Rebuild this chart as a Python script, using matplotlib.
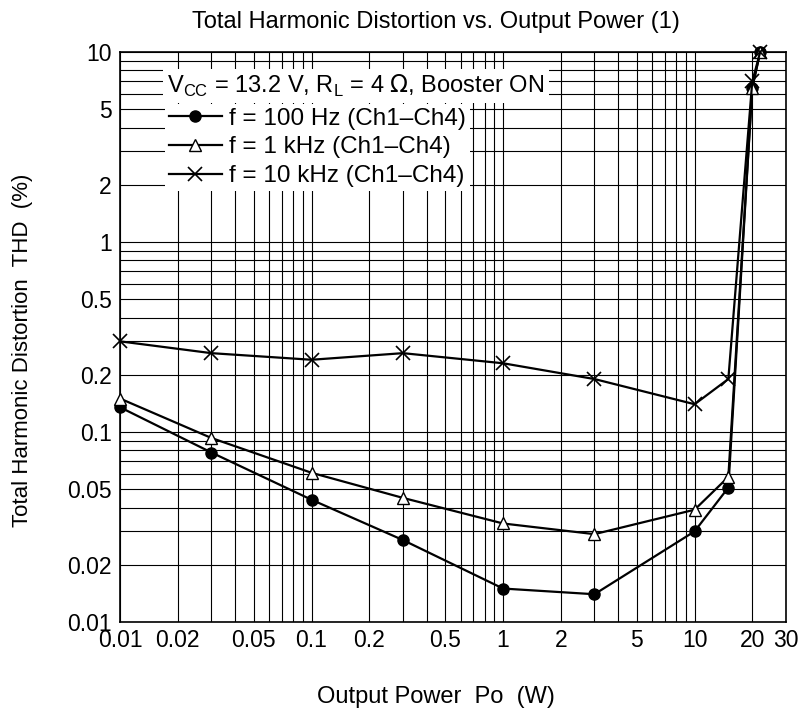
import matplotlib
matplotlib.use("Agg")
import matplotlib.pyplot as plt
from matplotlib.ticker import FixedLocator, FixedFormatter, LogLocator, NullFormatter

plt.rcParams["font.family"] = ["Liberation Sans", "DejaVu Sans"]

# data
power_w = [0.01, 0.03, 0.1, 0.3, 1, 3, 10, 15, 20, 22]
thd_100hz = [0.135, 0.078, 0.044, 0.027, 0.015, 0.014, 0.030, 0.051, 6.5, 10]
thd_1khz = [0.15, 0.093, 0.061, 0.045, 0.033, 0.029, 0.039, 0.058, 6.5, 10]
thd_10khz = [0.30, 0.26, 0.24, 0.26, 0.23, 0.19, 0.14, 0.19, 7.0, 10]

x_ticks = [0.01, 0.02, 0.05, 0.1, 0.2, 0.5, 1, 2, 5, 10, 20, 30]
x_tick_labels = ["0.01", "0.02", "0.05", "0.1", "0.2", "0.5", "1", "2", "5", "10", "20", "30"]
y_ticks = [0.01, 0.02, 0.05, 0.1, 0.2, 0.5, 1, 2, 5, 10]
y_tick_labels = ["0.01", "0.02", "0.05", "0.1", "0.2", "0.5", "1", "2", "5", "10"]

W, H = 801, 713
fig = plt.figure(figsize=(W / 100, H / 100), dpi=100)
ax = fig.add_axes([120 / W, 1 - 622 / H, 666 / W, 570 / H])

ax.set_xscale("log")
ax.set_yscale("log")
ax.set_xlim(0.01, 30)
ax.set_ylim(0.01, 10)

# grid (major + minor, all black)
ax.xaxis.set_major_locator(FixedLocator(x_ticks))
ax.xaxis.set_major_formatter(FixedFormatter(x_tick_labels))
ax.yaxis.set_major_locator(FixedLocator(y_ticks))
ax.yaxis.set_major_formatter(FixedFormatter(y_tick_labels))
ax.xaxis.set_minor_locator(LogLocator(base=10, subs=range(1, 10), numticks=20))
ax.yaxis.set_minor_locator(LogLocator(base=10, subs=range(1, 10), numticks=20))
ax.xaxis.set_minor_formatter(NullFormatter())
ax.yaxis.set_minor_formatter(NullFormatter())
ax.grid(True, which="both", color="black", linewidth=0.8)
ax.tick_params(which="both", length=0, labelsize=16.5)
ax.tick_params(axis="y", pad=6)
ax.tick_params(axis="x", pad=5)
for s in ax.spines.values():
    s.set_linewidth(1.2)

lw = 1.6
ax.plot(power_w, thd_100hz, color="black", lw=lw, marker="o", ms=8,
        mfc="black", mec="black", clip_on=False, zorder=5,
        label="f = 100 Hz (Ch1\u2013Ch4)")
ax.plot(power_w, thd_1khz, color="black", lw=lw, marker="^", ms=9,
        mfc="white", mec="black", mew=1.0, clip_on=False, zorder=5,
        label="f = 1 kHz (Ch1\u2013Ch4)")
ax.plot(power_w, thd_10khz, color="black", lw=lw, marker="x", ms=10,
        mew=1.2, clip_on=False, zorder=5,
        label="f = 10 kHz (Ch1\u2013Ch4)")

# condition text in its own white box
ax.text((167 - 120) / 666, (622 - 86) / 570,
        r"V$_{\mathregular{CC}}$ = 13.2 V, R$_{\mathregular{L}}$ = 4 $\Omega$, Booster ON",
        transform=ax.transAxes, fontsize=17, ha="left", va="center", zorder=6,
        bbox=dict(facecolor="white", edgecolor="none", pad=3))

leg = ax.legend(loc="upper left", bbox_to_anchor=((165 - 120) / 666, (622 - 104) / 570),
                fontsize=17.5, frameon=True, fancybox=False, framealpha=1,
                edgecolor="none", handlelength=2.2, handletextpad=0.3,
                borderpad=0.15, labelspacing=0.28, borderaxespad=0)
leg.set_zorder(6)

fig.text(436 / W, 1 - 22 / H, "Total Harmonic Distortion vs. Output Power (1)",
         fontsize=17, ha="center", va="center")
fig.text(436 / W, 1 - 697 / H, "Output Power  Po  (W)",
         fontsize=17, ha="center", va="center")
fig.text(23 / W, 1 - 350 / H, "Total Harmonic Distortion  THD  (%)",
         fontsize=16, ha="center", va="center", rotation=90)

fig.savefig("out.png", dpi=100)
